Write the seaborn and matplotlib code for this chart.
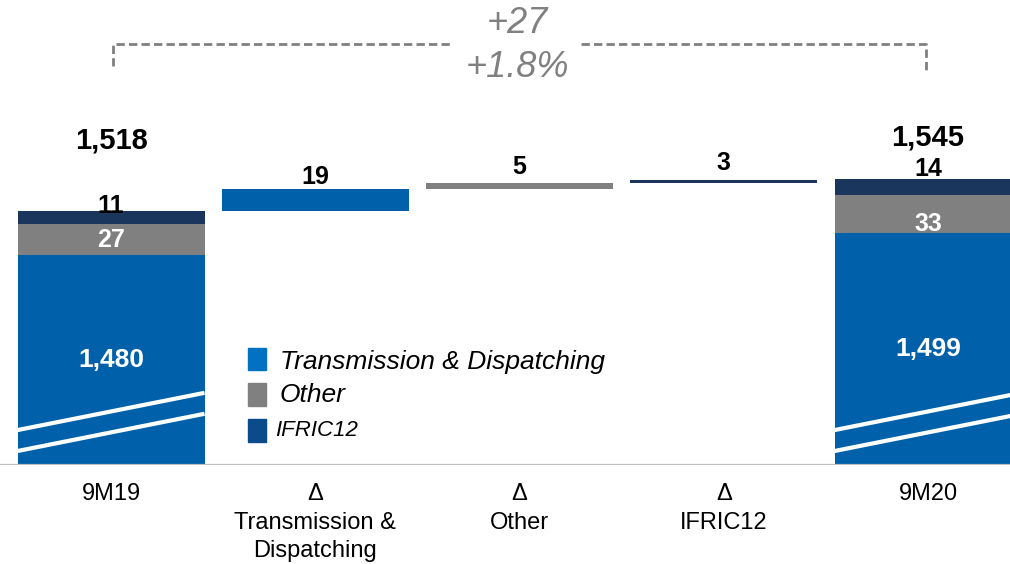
import matplotlib
matplotlib.use("Agg")
import matplotlib.pyplot as plt
import seaborn as sns
import pandas as pd
from matplotlib.patches import Rectangle

# ---- data ----
categories = ["9M19", "Δ\nTransmission &\nDispatching", "Δ\nOther", "Δ\nIFRIC12", "9M20"]
td_values = [1480, 19, 0, 0, 1499]
other_values = [27, 0, 5, 0, 33]
ifric_values = [11, 0, 0, 3, 14]
totals = [1518, 1545]
delta_abs = "+27"
delta_pct = "+1.8%"
legend_labels = ["Transmission & Dispatching", "Other", "IFRIC12"]

BLUE = "#0060A9"
GRAY = "#808080"
NAVY = "#1B365D"
LEG_BLUE = "#0070C0"
LEG_NAVY = "#0B4A8B"

sns.set_theme(style="white")
plt.rcParams["font.family"] = ["Liberation Sans", "DejaVu Sans"]

fig = plt.figure(figsize=(10.10, 5.64), dpi=100)
ax = fig.add_axes([0, 99 / 564, 1, 465 / 564])

n = len(categories)
# waterfall bottoms
td_bottom, other_bottom, ifric_bottom = [], [], []
running = None
for i in range(n):
    if i == 0 or i == n - 1:
        td_bottom.append(0)
        other_bottom.append(td_values[i])
        ifric_bottom.append(td_values[i] + other_values[i])
        running = td_values[i] + other_values[i] + ifric_values[i] if i == 0 else running
    else:
        td_bottom.append(running)
        running += td_values[i]
        other_bottom.append(running)
        running += other_values[i]
        ifric_bottom.append(running)
        running += ifric_values[i]

W = 0.9155
for vals, bots, col in [(td_values, td_bottom, BLUE),
                        (other_values, other_bottom, GRAY),
                        (ifric_values, ifric_bottom, NAVY)]:
    df = pd.DataFrame({"cat": categories, "val": vals})
    sns.barplot(data=df, x="cat", y="val", order=categories, color=col,
                saturation=1, width=W, bottom=bots, ax=ax, linewidth=0,
                edgecolor="none", errorbar=None)

YMIN = 1300
ax.set_ylim(YMIN, 1699.5)
ax.set_xlim(-0.5435, 4.4015)
for s in ax.spines.values():
    s.set_visible(False)
ax.set_yticks([])
ax.set_xlabel("")
ax.set_ylabel("")
ax.set_xticks(range(n))
ax.set_xticklabels(categories, fontsize=17, color="#000000", linespacing=1.38)
ax.tick_params(axis="x", length=0, pad=13)
ax.axhline(YMIN, color="#BFBFBF", lw=1.6, zorder=5)

# axis-break lines on first and last bars
for i in [0, n - 1]:
    x0, x1 = i - W / 2, i + W / 2
    for y0, y1 in [(1330, 1362), (1312, 1344)]:
        ax.plot([x0, x1], [y0, y1], color="white", lw=3, solid_capstyle="butt",
                zorder=4, clip_on=True)

# labels inside / on bars
def vis_center(bot, top):
    return (max(bot, YMIN) + top) / 2

for idx, i in enumerate([0, n - 1]):
    top_td = td_values[i]
    ax.text(i, vis_center(0, top_td), f"{td_values[i]:,}", ha="center", va="center",
            color="white", fontsize=19, fontweight="bold", zorder=6)
    ob, ov = other_bottom[i], other_values[i]
    off = 0 if i == 0 else -7
    ax.annotate(f"{ov:,}", (i, ob + ov / 2), xytext=(0, off), textcoords="offset points",
                ha="center", va="center", color="white", fontsize=18,
                fontweight="bold", zorder=6)
    ib, iv = ifric_bottom[i], ifric_values[i]
    off = 4 if i == 0 else 7
    ax.annotate(f"{iv:,}", (i, ib + iv), xytext=(0, off), textcoords="offset points",
                ha="center", va="center", color="black", fontsize=18,
                fontweight="bold", zorder=6)
    off = 51 if i == 0 else 30
    ax.annotate(f"{totals[idx]:,}", (i, ib + iv), xytext=(0, off), textcoords="offset points",
                ha="center", va="center", color="black", fontsize=21,
                fontweight="bold", zorder=6)

for i in range(1, n - 1):
    v = td_values[i] + other_values[i] + ifric_values[i]
    top = td_bottom[i] + v
    ax.annotate(f"{v:,}", (i, top), xytext=(0, 9 if i == 1 else 12),
                textcoords="offset points", ha="center", va="center",
                color="black", fontsize=18, fontweight="bold", zorder=6)

# bracket annotation
BR_Y = 1661.7
dash = dict(color=GRAY, lw=2, linestyle=(0, (3.0, 1.5)))
ax.plot([0.01, 0.01, 1.67], [1642.8, BR_Y, BR_Y], **dash, clip_on=False)
ax.plot([2.30, 3.99, 3.99], [BR_Y, BR_Y, 1639.5], **dash, clip_on=False)
ax.text(1.99, 1679, delta_abs, ha="center", va="center", color=GRAY,
        fontsize=26, fontstyle="italic")
ax.text(1.99, 1641.5, delta_pct, ha="center", va="center", color=GRAY,
        fontsize=26, fontstyle="italic")

# manual legend (figure pixel coordinates -> fraction)
FW, FH = 1010, 564
leg = [(LEG_BLUE, 348, 370, 280, 362, 19),
       (GRAY, 383, 406, 280, 395, 19),
       (LEG_NAVY, 419, 442, 275, 431, 16)]
for (col, yt, yb, tx, ty, fs), lab in zip(leg, legend_labels):
    fig.patches.append(Rectangle((248 / FW, 1 - yb / FH), 18 / FW, (yb - yt) / FH,
                                 transform=fig.transFigure, color=col, zorder=7))
    fig.text(tx / FW, 1 - ty / FH, lab, ha="left", va="center", fontsize=fs,
             fontstyle="italic", color="black")

fig.savefig("out.png", dpi=100)
